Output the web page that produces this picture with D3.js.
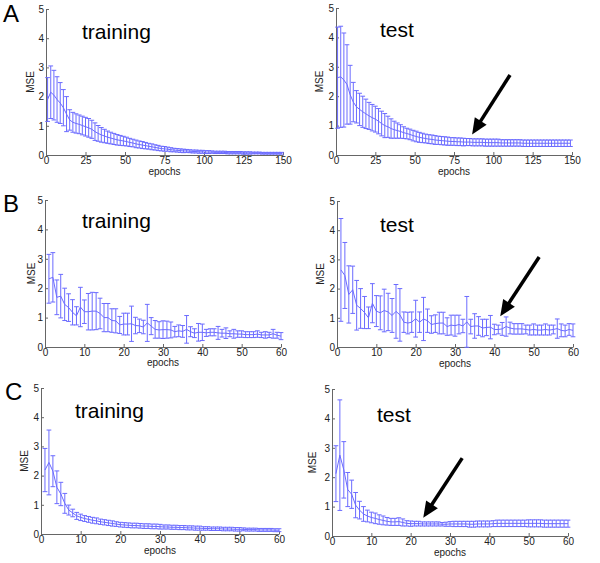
<!DOCTYPE html>
<html>
<head>
<meta charset="utf-8">
<script src="https://cdn.jsdelivr.net/npm/d3@7"></script>
<style>
  html, body { margin: 0; padding: 0; background: #fff; }
  svg { display: block; font-family: "Liberation Sans", Arial, Helvetica, sans-serif; }
</style>
</head>
<body>
<svg id="chart" width="600" height="563"></svg>
<script>
// ---------------- DATA ----------------
const yTicks = [0, 1, 2, 3, 4, 5];
const xTicksA = [0, 25, 50, 75, 100, 125, 150];
const xTicksBC = [0, 10, 20, 30, 40, 50, 60];

// Panel A: epochs sampled every 2 epochs
const epochsA = [1,3,5,7,9,11,13,15,17,19,21,23,25,27,29,31,33,35,37,39,
  41,43,45,47,49,51,53,55,57,59,61,63,65,67,69,71,73,75,77,79,
  81,83,85,87,89,91,93,95,97,99,101,103,105,107,109,111,113,115,117,119,
  121,123,125,127,129,131,133,135,137,139,141,143,145,147,149];
const trainMeanA = [1.9,2.15,2.05,1.9,1.78,1.62,1.4,1.2,1.12,1.08,1.05,1.01,0.97,0.93,0.88,0.8,0.74,0.69,0.65,0.61,
  0.58,0.55,0.52,0.5,0.48,0.46,0.43,0.41,0.38,0.36,0.34,0.32,0.3,0.28,0.26,0.24,0.22,0.21,0.2,0.18,
  0.17,0.16,0.15,0.14,0.14,0.13,0.12,0.12,0.11,0.11,0.1,0.1,0.1,0.09,0.09,0.09,0.09,0.08,0.08,0.08,
  0.08,0.08,0.07,0.07,0.07,0.07,0.07,0.07,0.06,0.06,0.06,0.06,0.06,0.06,0.06];
const trainErrA = [0.75,0.9,0.85,0.78,0.7,0.62,0.6,0.35,0.34,0.33,0.32,0.32,0.32,0.32,0.31,0.3,0.27,0.25,0.23,0.21,
  0.2,0.19,0.18,0.17,0.16,0.15,0.14,0.13,0.13,0.12,0.12,0.11,0.1,0.1,0.09,0.09,0.08,0.08,0.07,0.07,
  0.06,0.06,0.06,0.06,0.05,0.05,0.05,0.05,0.05,0.05,0.05,0.05,0.04,0.04,0.04,0.04,0.04,0.04,0.04,0.04,
  0.04,0.04,0.04,0.04,0.04,0.03,0.03,0.03,0.03,0.03,0.03,0.03,0.03,0.03,0.03];
const testMeanA = [2.63,2.66,2.55,2.4,2.05,1.8,1.64,1.55,1.47,1.4,1.33,1.27,1.22,1.15,1.07,1.0,0.96,0.9,0.86,0.83,
  0.8,0.76,0.73,0.7,0.66,0.63,0.6,0.58,0.56,0.54,0.53,0.51,0.5,0.49,0.48,0.47,0.46,0.46,0.45,0.45,
  0.44,0.44,0.44,0.43,0.43,0.43,0.43,0.42,0.42,0.42,0.42,0.42,0.41,0.41,0.41,0.41,0.41,0.41,0.41,0.4,
  0.4,0.4,0.4,0.4,0.4,0.4,0.4,0.4,0.4,0.4,0.4,0.4,0.4,0.4,0.4];
const testErrA = [1.72,1.72,1.6,1.35,1.0,0.67,0.55,0.55,0.53,0.5,0.46,0.45,0.44,0.43,0.42,0.41,0.36,0.33,0.29,0.26,
  0.23,0.2,0.18,0.18,0.18,0.18,0.17,0.16,0.15,0.15,0.15,0.15,0.14,0.14,0.14,0.14,0.13,0.13,0.13,0.13,
  0.13,0.12,0.12,0.12,0.12,0.12,0.12,0.12,0.12,0.12,0.12,0.12,0.11,0.11,0.11,0.11,0.11,0.11,0.11,0.11,
  0.11,0.11,0.11,0.11,0.11,0.11,0.11,0.11,0.11,0.11,0.11,0.11,0.11,0.11,0.11];

// Panels B and C: every epoch
const epochsBC = [1,2,3,4,5,6,7,8,9,10,11,12,13,14,15,16,17,18,19,20,
  21,22,23,24,25,26,27,28,29,30,31,32,33,34,35,36,37,38,39,40,
  41,42,43,44,45,46,47,48,49,50,51,52,53,54,55,56,57,58,59,60];
const trainMeanB = [2.32,2.37,1.69,1.73,1.45,1.34,1.18,1.06,1.36,1.2,1.2,1.22,1.22,1.14,1.0,1.0,0.9,0.89,0.75,0.78,
  0.78,0.79,0.73,0.72,0.68,0.82,0.71,0.6,0.58,0.59,0.59,0.58,0.52,0.55,0.53,0.6,0.52,0.47,0.5,0.5,
  0.48,0.5,0.5,0.48,0.47,0.47,0.45,0.45,0.44,0.44,0.42,0.42,0.42,0.44,0.41,0.41,0.41,0.45,0.4,0.37];
const trainErrB = [0.83,0.84,0.59,0.74,0.55,0.47,0.43,0.31,0.67,0.4,0.62,0.64,0.63,0.52,0.48,0.48,0.4,0.41,0.29,0.37,
  0.37,0.6,0.28,0.23,0.23,0.63,0.29,0.3,0.28,0.3,0.29,0.27,0.18,0.2,0.2,0.47,0.17,0.15,0.3,0.28,
  0.12,0.12,0.12,0.22,0.13,0.18,0.1,0.15,0.11,0.11,0.1,0.1,0.1,0.11,0.09,0.11,0.09,0.15,0.1,0.12];
const testMeanB = [2.64,2.45,1.8,1.96,1.43,1.32,1.18,1.0,1.5,1.23,1.17,1.25,1.2,1.08,1.22,1.1,0.85,0.82,0.85,0.97,
  0.85,0.96,0.9,0.77,0.8,0.82,0.82,0.7,0.75,0.73,0.77,0.72,0.86,0.7,0.72,0.72,0.65,0.67,0.68,0.6,
  0.6,0.62,0.7,0.65,0.62,0.62,0.62,0.6,0.58,0.6,0.58,0.58,0.6,0.58,0.6,0.63,0.57,0.55,0.6,0.57];
const testErrB = [1.76,1.13,0.98,0.81,0.85,0.68,0.55,0.37,0.67,0.53,0.58,0.73,0.64,0.58,0.92,0.9,0.35,0.37,0.35,0.63,
  0.35,0.74,0.4,0.3,0.3,0.37,0.37,0.3,0.34,0.36,0.32,0.23,0.87,0.25,0.42,0.32,0.3,0.28,0.4,0.18,
  0.15,0.22,0.33,0.2,0.18,0.18,0.18,0.15,0.17,0.19,0.17,0.17,0.19,0.17,0.15,0.33,0.22,0.2,0.2,0.22];

const trainMeanC = [2.19,2.45,2.15,1.6,1.37,1.05,0.82,0.72,0.62,0.57,0.53,0.5,0.47,0.45,0.42,0.4,0.38,0.36,0.34,0.32,
  0.31,0.3,0.29,0.29,0.28,0.27,0.27,0.26,0.26,0.25,0.24,0.24,0.23,0.23,0.22,0.22,0.21,0.21,0.2,0.2,
  0.19,0.19,0.18,0.18,0.18,0.17,0.17,0.17,0.16,0.16,0.16,0.15,0.15,0.15,0.14,0.14,0.14,0.14,0.13,0.13];
const trainErrC = [0.74,1.11,0.53,0.56,0.4,0.34,0.17,0.13,0.12,0.11,0.1,0.1,0.1,0.1,0.09,0.09,0.09,0.09,0.08,0.08,
  0.08,0.08,0.08,0.08,0.08,0.08,0.08,0.08,0.08,0.08,0.07,0.07,0.07,0.07,0.07,0.07,0.07,0.07,0.07,0.07,
  0.06,0.06,0.06,0.06,0.06,0.06,0.06,0.06,0.06,0.06,0.05,0.05,0.05,0.05,0.05,0.05,0.05,0.05,0.05,0.05];
const testMeanC = [2.12,2.75,2.25,1.58,1.42,1.05,0.88,0.75,0.68,0.63,0.6,0.56,0.53,0.5,0.48,0.48,0.49,0.46,0.43,0.42,
  0.42,0.42,0.41,0.41,0.41,0.41,0.41,0.4,0.4,0.41,0.41,0.41,0.41,0.41,0.4,0.4,0.41,0.41,0.41,0.41,
  0.42,0.43,0.43,0.43,0.43,0.43,0.43,0.43,0.43,0.43,0.43,0.43,0.43,0.42,0.42,0.42,0.42,0.42,0.42,0.42];
const testErrC = [0.95,1.88,0.96,0.58,0.48,0.43,0.3,0.25,0.2,0.18,0.18,0.16,0.15,0.13,0.12,0.12,0.13,0.12,0.09,0.09,
  0.08,0.08,0.07,0.07,0.07,0.07,0.07,0.06,0.07,0.08,0.09,0.09,0.09,0.09,0.1,0.1,0.1,0.1,0.1,0.1,
  0.1,0.11,0.11,0.11,0.11,0.11,0.11,0.11,0.11,0.12,0.12,0.12,0.12,0.12,0.12,0.12,0.12,0.12,0.12,0.12];

const rowLetters = ["A", "B", "C"];
const panelTitles = ["training", "test"];

// ---------------- LAYOUT ----------------
const svg = d3.select("#chart");
const FONT = '"Liberation Sans", Arial, Helvetica, sans-serif';
const BLUE = "#6b6bff";
const AXIS = "#666";

const panels = [
  {row:0, col:0, epochs:epochsA, mean:trainMeanA, err:trainErrA, xMax:150, xTicks:xTicksA,
   x0:46, x1:283, y0:155, y1:9, title:[82,39], mse:12.5, ep:20},
  {row:0, col:1, epochs:epochsA, mean:testMeanA, err:testErrA, xMax:150, xTicks:xTicksA,
   x0:336, x1:572, y0:155, y1:8, title:[380,37], mse:13.5, ep:20, arrow:{from:[110.6,2.72], to:[86.5,0.7]}},
  {row:1, col:0, epochs:epochsBC, mean:trainMeanB, err:trainErrB, xMax:60, xTicks:xTicksBC,
   x0:45, x1:281, y0:347, y1:200, title:[82,228], mse:10.5, ep:19},
  {row:1, col:1, epochs:epochsBC, mean:testMeanB, err:testErrB, xMax:60, xTicks:xTicksBC,
   x0:337, x1:573, y0:347, y1:201, title:[380,232], mse:13.5, ep:20, arrow:{from:[51.4,3.08], to:[41.5,1.05]}},
  {row:2, col:0, epochs:epochsBC, mean:trainMeanC, err:trainErrC, xMax:60, xTicks:xTicksBC,
   x0:41, x1:279, y0:534, y1:388, title:[75,418], mse:13, ep:20},
  {row:2, col:1, epochs:epochsBC, mean:testMeanC, err:testErrC, xMax:60, xTicks:xTicksBC,
   x0:332, x1:568, y0:536, y1:389, title:[377,422], mse:16.5, ep:20, arrow:{from:[33.1,2.65], to:[23.2,0.62]}}
];

const letterPos = [[3,22],[3,212],[5,400]];
rowLetters.forEach((L, i) => {
  svg.append("text").attr("x", letterPos[i][0]).attr("y", letterPos[i][1])
    .attr("font-size", 24).attr("font-family", FONT).attr("fill", "#000").text(L);
});

panels.forEach(p => {
  const x = d3.scaleLinear().domain([0, p.xMax]).range([p.x0, p.x1]);
  const y = d3.scaleLinear().domain([0, 5]).range([p.y0, p.y1]);
  const g = svg.append("g");

  // axes (MATLAB style: inward ticks, left + bottom only)
  const yAxis = d3.axisLeft(y).tickValues(yTicks).tickFormat(d3.format("d")).tickSize(-3).tickSizeOuter(0).tickPadding(2);
  const xAxis = d3.axisBottom(x).tickValues(p.xTicks).tickFormat(d3.format("d")).tickSize(-3).tickSizeOuter(0).tickPadding(2);
  const ya = g.append("g").attr("transform", `translate(${p.x0},0)`).call(yAxis);
  const xa = g.append("g").attr("transform", `translate(0,${p.y0})`).call(xAxis);
  [ya, xa].forEach(a => {
    a.selectAll("path.domain").attr("stroke", AXIS).attr("stroke-width", 1);
    a.selectAll(".tick line").attr("stroke", AXIS);
    a.selectAll(".tick text").attr("font-family", FONT).attr("font-size", 10).attr("fill", "#222");
  });

  // error bars
  const cap = p.xMax * 0.01;
  const bars = g.append("g").attr("stroke", BLUE).attr("stroke-width", 1).attr("fill", "none");
  p.epochs.forEach((e, i) => {
    const lo = p.mean[i] - p.err[i], hi = p.mean[i] + p.err[i];
    bars.append("line").attr("x1", x(e)).attr("x2", x(e)).attr("y1", y(lo)).attr("y2", y(hi));
    bars.append("line").attr("x1", x(e - cap)).attr("x2", x(e + cap)).attr("y1", y(lo)).attr("y2", y(lo));
    bars.append("line").attr("x1", x(e - cap)).attr("x2", x(e + cap)).attr("y1", y(hi)).attr("y2", y(hi));
  });

  // mean line
  const line = d3.line().x((d, i) => x(p.epochs[i])).y(d => y(d));
  g.append("path").datum(p.mean).attr("d", line)
    .attr("fill", "none").attr("stroke", BLUE).attr("stroke-width", 1);

  // labels
  g.append("text").attr("x", (p.x0 + p.x1) / 2).attr("y", p.y0 + p.ep)
    .attr("text-anchor", "middle").attr("font-size", 10).attr("font-family", FONT).attr("fill", "#222").text("epochs");
  g.append("text").attr("transform", `translate(${p.x0 - p.mse},${(p.y0 + p.y1) / 2}) rotate(-90)`)
    .attr("text-anchor", "middle").attr("font-size", 10).attr("font-family", FONT).attr("fill", "#222").text("MSE");
  g.append("text").attr("x", p.title[0]).attr("y", p.title[1])
    .attr("font-size", 21).attr("font-family", FONT).attr("fill", "#000").text(panelTitles[p.col]);

  // arrow annotation
  if (p.arrow) {
    const [fx, fy] = [x(p.arrow.from[0]), y(p.arrow.from[1])];
    const [tx, ty] = [x(p.arrow.to[0]), y(p.arrow.to[1])];
    const len = Math.hypot(tx - fx, ty - fy);
    const ux = (tx - fx) / len, uy = (ty - fy) / len;
    const hl = 16, hw = 7;
    const bx = tx - ux * hl, by = ty - uy * hl;
    g.append("line").attr("x1", fx).attr("y1", fy).attr("x2", bx + ux * 2).attr("y2", by + uy * 2)
      .attr("stroke", "#000").attr("stroke-width", 3.5);
    g.append("polygon")
      .attr("points", [[tx, ty], [bx - uy * hw, by + ux * hw], [bx + uy * hw, by - ux * hw]].map(q => q.join(",")).join(" "))
      .attr("fill", "#000");
  }
});
</script>
</body>
</html>
